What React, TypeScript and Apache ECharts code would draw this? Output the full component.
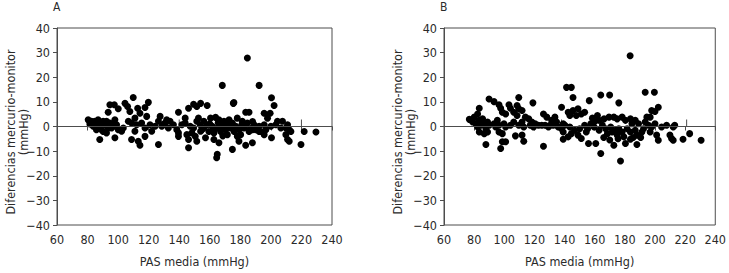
import React, { useEffect, useRef } from "react";
import * as echarts from "echarts";

const panelLabels = ["A", "B"];
const xTitle = "PAS media (mmHg)";
const yTitle = "Diferencias mercurio-monitor\n(mmHg)";

const panelAPoints: number[][] = [
  [109.9, 11.8], [94.6, 8.8], [97.5, 8.8], [104.5, 9.4], [106.2, 8.1], [119.8, 9.8], [93.5, 5.8], [100.1, 7.2],
  [107.7, 6.1], [112.8, 7.4], [117.6, 7.7], [114.3, 5.4], [118.7, 4.1], [111.0, 3.4], [127.5, 4.1], [126.4, 2.1],
  [139.5, 5.8], [146.1, 7.4], [149.4, 9.0], [151.5, 8.1], [143.9, 3.4], [152.6, 3.4], [131.8, 2.7], [134.0, 2.1],
  [129.6, 0.7], [80.4, 2.7], [82.6, 2.1], [81.5, 1.0], [84.8, 2.1], [85.8, 0.1], [88.0, 0.7], [89.1, -1.3],
  [91.3, 0.7], [90.2, -2.0], [94.6, 1.4], [95.7, -0.6], [97.9, 2.7], [99.0, 0.7], [100.1, -1.3], [103.4, -0.6],
  [106.7, 2.1], [108.8, 1.4], [112.1, 0.7], [115.4, 1.4], [117.6, -0.6], [120.9, 0.7], [124.2, 0.1], [128.6, 0.1],
  [130.7, 1.4], [132.9, -0.6], [136.2, 0.7], [138.4, -1.3], [141.7, 0.7], [143.9, 1.4], [147.2, 0.1], [149.4, -0.6],
  [151.5, 2.1], [153.7, 0.7], [154.8, -1.3], [148.3, -2.6], [145.0, -3.3], [150.5, -4.0], [146.1, -5.3], [139.5, -2.6],
  [88.0, -5.3], [92.4, -2.6], [97.9, -4.6], [102.3, -1.9], [111.0, -1.9], [108.8, -5.3], [113.2, -6.0], [114.3, -7.6],
  [117.6, -4.0], [122.0, -1.9], [126.4, -7.3], [139.5, -4.0], [146.1, -8.6], [151.5, -6.0],
  [83.7, 1.4], [86.9, 2.7], [85.8, -1.3], [92.4, 2.1], [93.5, -0.6], [96.8, 0.1], [86.9, 1.4], [83.7, 0.1], [90.2, 2.1],
  [154.0, 9.4], [158.3, 8.5], [175.4, 9.4], [200.4, 11.7], [202.1, 8.5], [183.5, 5.8], [185.7, 5.8], [195.6, 5.4],
  [199.5, 5.4], [197.8, 3.4], [204.3, 2.1], [207.6, 2.1], [210.9, 0.7], [160.5, 3.4], [163.8, 3.7], [166.0, 2.7],
  [169.3, 2.1], [172.6, 2.7], [174.8, 1.4], [178.0, 3.4], [181.3, 2.1], [184.6, 1.4], [189.0, 0.7], [192.3, 0.1],
  [195.6, 0.7], [200.0, 0.1], [203.2, 0.7], [156.1, 2.1], [156.1, -0.6], [158.3, 0.7], [159.4, -2.0], [161.6, 0.1],
  [162.7, -2.6], [164.9, -0.6], [167.1, -2.0], [168.2, 0.1], [170.4, -1.3], [171.5, -3.3], [173.7, -0.6], [175.9, -2.0],
  [177.0, 0.1], [179.1, -1.3], [180.2, -3.3], [182.4, -0.6], [185.7, -2.0], [187.9, -1.3], [190.1, -1.3], [193.4, -2.0],
  [196.7, -1.3], [206.5, -0.6], [209.8, -0.6], [212.0, -1.3], [213.1, -2.0], [154.0, -1.9], [157.2, -4.6], [162.7, -5.3],
  [166.0, -6.6], [164.9, -11.3], [164.5, -12.7], [174.8, -9.3], [178.0, -4.0], [179.1, -6.0], [183.5, -7.6], [187.9, -6.6],
  [192.3, -2.0], [195.6, -3.3], [200.4, -4.6], [209.8, -3.3], [210.9, -5.3], [212.0, -6.0], [219.7, -7.3], [221.8, -2.0],
  [229.5, -2.2], [184.6, 27.8], [168.2, 16.7], [192.3, 16.7], [175.8, 9.7], [160.0, 1.0], [165.5, 1.5], [170.0, 0.5],
  [176.0, -0.3], [181.0, 0.8], [186.5, -0.8], [163.0, -1.2], [172.0, 1.0], [188.0, 2.0], [168.5, -3.8],
];

const panelBPoints: number[][] = [
  [141.3, 15.9], [144.5, 15.9], [145.6, 11.8], [109.6, 11.8], [89.9, 11.2], [93.2, 10.1], [119.0, 9.6], [96.5, 8.8],
  [97.6, 7.4], [103.1, 8.8], [104.1, 7.4], [108.5, 8.5], [109.6, 7.2], [83.4, 7.4], [82.3, 5.1], [98.7, 5.8],
  [100.9, 5.1], [106.3, 5.8], [108.5, 4.5], [111.8, 6.5], [114.0, 3.8], [116.2, 3.1], [118.3, 1.8], [120.5, 1.1],
  [126.0, 5.1], [128.2, 3.8], [131.4, 2.5], [133.6, 3.8], [134.7, 1.8], [139.1, 1.1], [138.0, 7.8], [142.4, 5.8],
  [145.6, 6.5], [148.9, 7.2], [151.1, 5.1], [153.3, 5.8], [147.8, 4.5], [143.5, 4.5], [132.5, 0.5], [130.3, 0.5],
  [76.8, 2.9], [79.0, 1.8], [80.1, 3.8], [81.2, 1.1], [82.3, -0.2], [83.4, 2.5], [84.5, 0.5], [85.6, 3.1],
  [86.7, 1.1], [87.8, -0.9], [88.9, 1.8], [90.0, 0.5], [93.2, 1.1], [94.3, -0.2], [95.4, 2.5], [96.5, 0.5],
  [99.8, 1.1], [100.9, -0.2], [104.1, 0.5], [106.3, 1.8], [109.6, 0.5], [111.8, 1.8], [112.9, -0.2], [117.2, 0.5],
  [119.4, -0.2], [122.7, 0.5], [124.9, 0.5], [127.1, 0.5], [129.3, -0.2], [135.8, -0.2], [138.0, -0.9], [140.2, 0.5],
  [143.5, -0.2], [146.7, -1.5], [150.0, -0.9], [153.3, 0.5], [154.4, -2.2], [148.9, -3.5], [144.5, -2.9], [142.4, -4.2],
  [151.1, -4.9], [139.1, -2.2], [83.4, -2.2], [86.7, -2.9], [88.9, -2.2], [96.5, -2.2], [98.7, -2.9], [107.4, -3.8],
  [111.8, -3.5], [112.9, -6.0], [98.7, -6.2], [100.9, -6.2], [97.6, -8.9], [87.8, -7.3], [126.0, -8.0], [139.1, -5.2],
  [183.5, 28.7], [193.5, 13.9], [199.6, 13.9], [164.0, 12.8], [169.9, 12.8], [176.0, 9.6], [156.4, 10.5], [197.8, 6.5],
  [200.0, 6.1], [202.2, 7.8], [194.6, 3.8], [196.8, 3.8], [158.5, 3.4], [161.8, 4.5], [157.4, 1.1], [162.9, 2.5],
  [166.2, 3.1], [169.5, 3.8], [172.7, 3.8], [174.9, 3.1], [178.2, 3.8], [180.4, 2.5], [183.7, 3.1], [186.9, 2.5],
  [184.7, 1.1], [189.1, 1.1], [193.5, 1.8], [195.7, 0.5], [200.0, 1.1], [197.8, -0.2], [207.7, 0.5], [212.1, -0.2],
  [213.1, 0.5], [204.4, -0.2], [155.3, -0.9], [159.6, -0.2], [162.9, -1.5], [165.1, 0.5], [167.3, -0.9], [168.4, -2.9],
  [170.6, -0.2], [171.6, -2.2], [173.8, -1.5], [174.9, -3.5], [176.0, -0.9], [178.2, -2.2], [179.3, -4.2], [181.5, -0.9],
  [183.7, -2.2], [186.9, -1.5], [188.0, -3.5], [191.3, -2.2], [192.4, -0.9], [196.8, -2.2], [201.1, -3.5], [202.2, -5.6],
  [209.9, -3.5], [211.0, -4.9], [212.1, -5.6], [218.6, -5.2], [223.0, -2.9], [230.6, -5.6], [164.0, -11.0], [177.1, -14.0],
  [160.7, -6.9], [172.7, -7.6], [180.4, -6.9], [188.0, -7.3], [183.7, -5.2], [155.9, -6.9], [166.0, -4.5], [170.0, -5.5],
  [175.5, -5.0], [185.5, -4.5], [160.0, 2.0], [190.5, -4.5],
];

const panelATicks: number[][] = [[140, 0], [220, 0]];
const panelBTicks: number[][] = [[138, 0], [221, 0]];

const X_MIN = 60;
const X_MAX = 240;
const X_STEP = 20;
const Y_MIN = -40;
const Y_MAX = 40;
const Y_STEP = 10;

const FONT = "'Liberation Sans Narrow', 'DejaVu Sans Condensed', 'Arial Narrow', sans-serif";
const AXIS_COLOR = "#4d4d4d";
const TEXT_COLOR = "#2a2a2a";

export default function App() {
  const ref = useRef<HTMLDivElement>(null);
  useEffect(() => {
    if (!ref.current) return;
    const chart = echarts.init(ref.current, null, { renderer: "svg" });
    const grids = [
      { left: 57, top: 28, width: 275, height: 199 },
      { left: 444, top: 28, width: 275, height: 199 },
    ];
    const xAxis = grids.map((_, i) => ({
      type: "value",
      gridIndex: i,
      min: X_MIN,
      max: X_MAX,
      interval: X_STEP,
      name: xTitle,
      nameLocation: "middle",
      nameGap: 30,
      nameTextStyle: { fontFamily: FONT, fontSize: 12.5, color: TEXT_COLOR },
      axisLine: { show: true, lineStyle: { color: AXIS_COLOR, width: 1 } },
      axisTick: { show: true, inside: false, length: 4, lineStyle: { color: AXIS_COLOR } },
      axisLabel: { fontFamily: FONT, fontSize: 12.5, color: TEXT_COLOR, margin: 8 },
      splitLine: { show: false },
    }));
    const yAxis = grids.map((_, i) => ({
      type: "value",
      gridIndex: i,
      min: Y_MIN,
      max: Y_MAX,
      interval: Y_STEP,
      axisLine: { show: true, lineStyle: { color: AXIS_COLOR, width: 1 } },
      axisTick: { show: true, inside: false, length: 4, lineStyle: { color: AXIS_COLOR } },
      axisLabel: {
        fontFamily: FONT,
        fontSize: 12.5,
        color: TEXT_COLOR,
        margin: 7,
        formatter: (v: number) => (v < 0 ? "\u2212" + Math.abs(v) : String(v)),
      },
      splitLine: { show: false },
    }));
    const panels = [panelAPoints, panelBPoints];
    const ticks = [panelATicks, panelBTicks];
    const series: any[] = [];
    panels.forEach((pts, i) => {
      series.push({
        type: "scatter",
        xAxisIndex: i,
        yAxisIndex: i,
        data: pts,
        symbol: "circle",
        symbolSize: 7,
        itemStyle: { color: "#000", opacity: 1 },
        silent: true,
        markLine: {
          silent: true,
          symbol: "none",
          label: { show: false },
          lineStyle: { color: AXIS_COLOR, width: 1, type: "solid" },
          data: [{ yAxis: 0 }],
        },
        z: 3,
      });
      series.push({
        type: "scatter",
        xAxisIndex: i,
        yAxisIndex: i,
        data: ticks[i],
        symbol: "rect",
        symbolSize: [1, 7],
        symbolOffset: [0, -3.5],
        itemStyle: { color: AXIS_COLOR, opacity: 1 },
        silent: true,
        z: 2,
      });
    });
    const graphic: any[] = [
      { type: "text", left: 53, top: 1, style: { text: panelLabels[0], font: `12px ${FONT}`, fill: TEXT_COLOR } },
      { type: "text", left: 440, top: 1, style: { text: panelLabels[1], font: `12px ${FONT}`, fill: TEXT_COLOR } },
      {
        type: "text",
        x: 17,
        y: 132,
        rotation: Math.PI / 2,
        style: {
          text: yTitle,
          font: `12.5px ${FONT}`,
          fill: TEXT_COLOR,
          align: "center",
          verticalAlign: "middle",
          lineHeight: 13,
        },
      },
      {
        type: "text",
        x: 404,
        y: 132,
        rotation: Math.PI / 2,
        style: {
          text: yTitle,
          font: `12.5px ${FONT}`,
          fill: TEXT_COLOR,
          align: "center",
          verticalAlign: "middle",
          lineHeight: 13,
        },
      },
    ];
    chart.setOption({
      animation: false,
      backgroundColor: "#fff",
      grid: grids.map((g) => ({ ...g, show: true, borderColor: AXIS_COLOR, borderWidth: 1, backgroundColor: "transparent" })),
      xAxis,
      yAxis,
      series,
      graphic,
    } as any);
    return () => chart.dispose();
  }, []);
  return <div ref={ref} style={{ width: 729, height: 273, position: "absolute", left: 0, top: 0 }} />;
}
